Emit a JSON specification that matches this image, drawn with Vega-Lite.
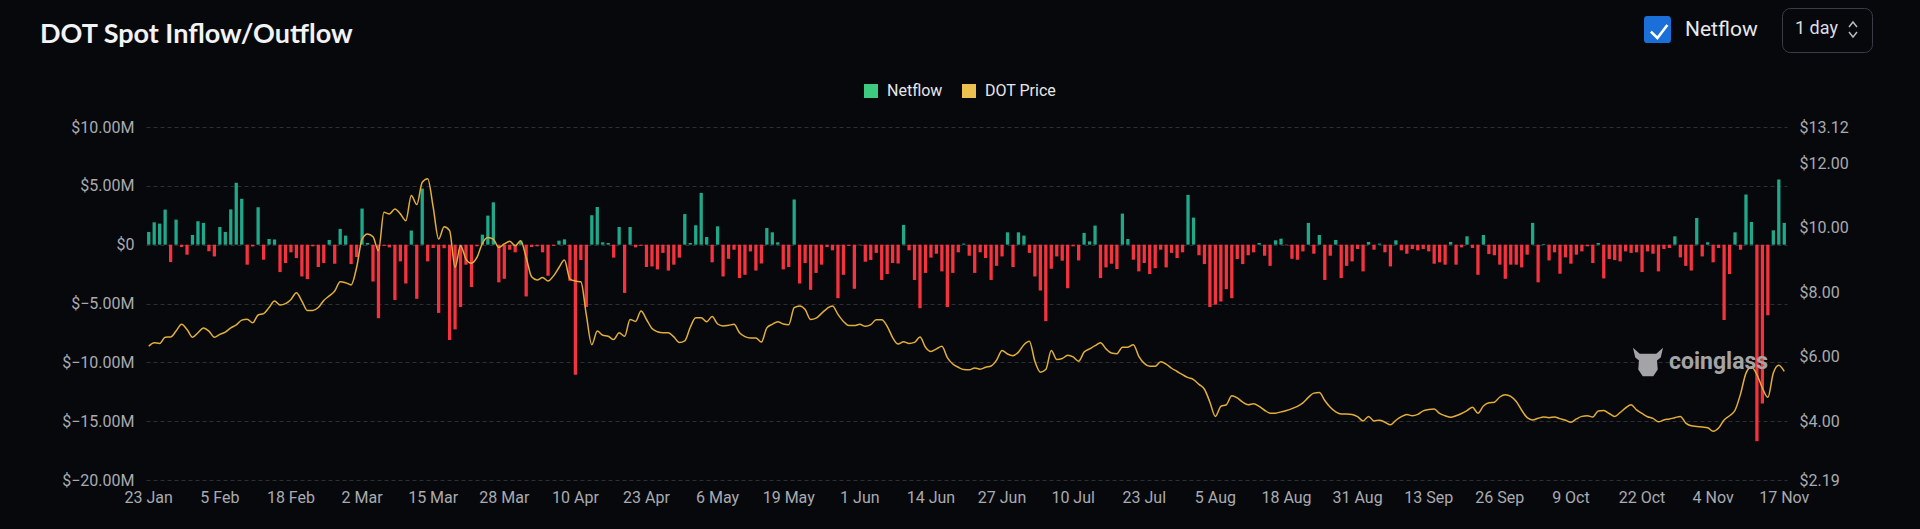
{
"$schema": "https://vega.github.io/schema/vega-lite/v6.json",
"width": 1641, "height": 353,
"autosize": {"type": "none"},
"padding": {"left": 146, "top": 127, "right": 133, "bottom": 49},
"background": "#07080c",
"title": {"text": "DOT Spot Inflow/Outflow", "anchor": "start", "frame": "group", "font": "Lato", "fontSize": 27, "fontWeight": "bold", "color": "#f2f3f5", "dx": -106, "offset": -62, "baseline": "alphabetic"},
"data": {"values": [
{"d":"2024-01-23","n":1.08,"p":6.33},{"d":"2024-01-24","n":1.9,"p":6.44},{"d":"2024-01-25","n":1.79,"p":6.42},{"d":"2024-01-26","n":2.98,"p":6.61},{"d":"2024-01-27","n":-1.48,"p":6.62},{"d":"2024-01-28","n":2.13,"p":6.8},{"d":"2024-01-29","n":-0.2,"p":7.01},{"d":"2024-01-30","n":-0.85,"p":6.85},{"d":"2024-01-31","n":0.82,"p":6.61},
{"d":"2024-02-01","n":1.99,"p":6.75},{"d":"2024-02-02","n":1.85,"p":6.9},{"d":"2024-02-03","n":-0.57,"p":6.8},{"d":"2024-02-04","n":-1.0,"p":6.61},{"d":"2024-02-05","n":1.5,"p":6.7},{"d":"2024-02-06","n":1.08,"p":6.77},{"d":"2024-02-07","n":3.0,"p":6.9},{"d":"2024-02-08","n":5.26,"p":6.99},{"d":"2024-02-09","n":3.9,"p":7.14},{"d":"2024-02-10","n":-1.7,"p":7.17},{"d":"2024-02-11","n":-0.15,"p":7.06},{"d":"2024-02-12","n":3.18,"p":7.3},{"d":"2024-02-13","n":-1.28,"p":7.34},{"d":"2024-02-14","n":0.48,"p":7.53},{"d":"2024-02-15","n":0.43,"p":7.73},{"d":"2024-02-16","n":-2.33,"p":7.61},{"d":"2024-02-17","n":-1.56,"p":7.65},{"d":"2024-02-18","n":-0.65,"p":7.78},{"d":"2024-02-19","n":-1.14,"p":7.99},{"d":"2024-02-20","n":-2.7,"p":7.73},{"d":"2024-02-21","n":-2.93,"p":7.44},{"d":"2024-02-22","n":-0.14,"p":7.44},{"d":"2024-02-23","n":-1.9,"p":7.53},{"d":"2024-02-24","n":-1.56,"p":7.75},{"d":"2024-02-25","n":0.4,"p":7.89},{"d":"2024-02-26","n":-1.62,"p":8.04},{"d":"2024-02-27","n":1.34,"p":8.33},{"d":"2024-02-28","n":0.77,"p":8.3},{"d":"2024-02-29","n":-1.65,"p":8.23},
{"d":"2024-03-01","n":-1.05,"p":8.77},{"d":"2024-03-02","n":3.07,"p":9.65},{"d":"2024-03-03","n":0.14,"p":9.81},{"d":"2024-03-04","n":-3.13,"p":9.72},{"d":"2024-03-05","n":-6.25,"p":9.29},{"d":"2024-03-06","n":-0.1,"p":10.48},{"d":"2024-03-07","n":-0.23,"p":10.43},{"d":"2024-03-08","n":-4.7,"p":10.58},{"d":"2024-03-09","n":-1.42,"p":10.43},{"d":"2024-03-10","n":-3.3,"p":10.22},{"d":"2024-03-11","n":1.2,"p":11.0},{"d":"2024-03-12","n":-4.6,"p":10.72},{"d":"2024-03-13","n":4.77,"p":11.41},{"d":"2024-03-14","n":-1.42,"p":11.52},{"d":"2024-03-15","n":-0.28,"p":10.64},{"d":"2024-03-16","n":-5.8,"p":9.65},{"d":"2024-03-17","n":-0.3,"p":10.03},{"d":"2024-03-18","n":-8.1,"p":9.91},{"d":"2024-03-19","n":-7.2,"p":8.77},{"d":"2024-03-20","n":-5.3,"p":9.44},{"d":"2024-03-21","n":-1.7,"p":9.03},{"d":"2024-03-22","n":-3.6,"p":8.9},{"d":"2024-03-23","n":-0.14,"p":9.08},{"d":"2024-03-24","n":0.85,"p":9.52},{"d":"2024-03-25","n":2.47,"p":9.7},{"d":"2024-03-26","n":3.6,"p":9.65},{"d":"2024-03-27","n":-3.2,"p":9.39},{"d":"2024-03-28","n":-2.9,"p":9.5},{"d":"2024-03-29","n":-0.43,"p":9.58},{"d":"2024-03-30","n":-0.65,"p":9.44},{"d":"2024-03-31","n":0.34,"p":9.6},
{"d":"2024-04-01","n":-4.4,"p":9.08},{"d":"2024-04-02","n":-0.2,"p":8.48},{"d":"2024-04-03","n":-0.14,"p":8.38},{"d":"2024-04-04","n":-0.65,"p":8.46},{"d":"2024-04-05","n":-2.64,"p":8.35},{"d":"2024-04-06","n":-0.1,"p":8.51},{"d":"2024-04-07","n":0.34,"p":8.77},{"d":"2024-04-08","n":0.45,"p":9.0},{"d":"2024-04-09","n":-3.07,"p":8.41},{"d":"2024-04-10","n":-11.05,"p":8.35},{"d":"2024-04-11","n":-1.3,"p":8.33},{"d":"2024-04-12","n":-5.3,"p":7.3},{"d":"2024-04-13","n":2.5,"p":6.38},{"d":"2024-04-14","n":3.2,"p":6.8},{"d":"2024-04-15","n":0.2,"p":6.67},{"d":"2024-04-16","n":0.14,"p":6.64},{"d":"2024-04-17","n":-1.1,"p":6.54},{"d":"2024-04-18","n":1.5,"p":6.75},{"d":"2024-04-19","n":-4.1,"p":6.64},{"d":"2024-04-20","n":1.5,"p":7.16},{"d":"2024-04-21","n":-0.23,"p":7.1},{"d":"2024-04-22","n":-0.1,"p":7.42},{"d":"2024-04-23","n":-1.9,"p":7.16},{"d":"2024-04-24","n":-1.85,"p":6.88},{"d":"2024-04-25","n":-2.1,"p":6.78},{"d":"2024-04-26","n":-0.7,"p":6.75},{"d":"2024-04-27","n":-2.2,"p":6.75},{"d":"2024-04-28","n":-1.7,"p":6.62},{"d":"2024-04-29","n":-1.1,"p":6.45},{"d":"2024-04-30","n":2.6,"p":6.5},
{"d":"2024-05-01","n":0.14,"p":6.92},{"d":"2024-05-02","n":1.65,"p":7.21},{"d":"2024-05-03","n":4.4,"p":7.21},{"d":"2024-05-04","n":0.65,"p":7.09},{"d":"2024-05-05","n":-1.5,"p":7.25},{"d":"2024-05-06","n":1.56,"p":7.02},{"d":"2024-05-07","n":-2.7,"p":6.96},{"d":"2024-05-08","n":-1.2,"p":6.98},{"d":"2024-05-09","n":-0.43,"p":7.01},{"d":"2024-05-10","n":-2.84,"p":6.75},{"d":"2024-05-11","n":-2.56,"p":6.63},{"d":"2024-05-12","n":-0.57,"p":6.59},{"d":"2024-05-13","n":-2.2,"p":6.59},{"d":"2024-05-14","n":-1.6,"p":6.46},{"d":"2024-05-15","n":1.42,"p":6.9},{"d":"2024-05-16","n":1.05,"p":7.01},{"d":"2024-05-17","n":0.2,"p":7.09},{"d":"2024-05-18","n":-2.1,"p":7.02},{"d":"2024-05-19","n":-1.9,"p":7.0},{"d":"2024-05-20","n":3.84,"p":7.53},{"d":"2024-05-21","n":-3.3,"p":7.58},{"d":"2024-05-22","n":-1.56,"p":7.47},{"d":"2024-05-23","n":-3.84,"p":7.16},{"d":"2024-05-24","n":-2.4,"p":7.2},{"d":"2024-05-25","n":-1.7,"p":7.35},{"d":"2024-05-26","n":-0.2,"p":7.5},{"d":"2024-05-27","n":-0.48,"p":7.58},{"d":"2024-05-28","n":-4.55,"p":7.32},{"d":"2024-05-29","n":-2.56,"p":7.1},{"d":"2024-05-30","n":-0.1,"p":6.97},{"d":"2024-05-31","n":-3.75,"p":6.97},
{"d":"2024-06-01","n":-0.05,"p":7.01},{"d":"2024-06-02","n":-1.45,"p":6.95},{"d":"2024-06-03","n":-1.3,"p":7.0},{"d":"2024-06-04","n":-0.7,"p":7.15},{"d":"2024-06-05","n":-3.0,"p":7.15},{"d":"2024-06-06","n":-2.5,"p":6.95},{"d":"2024-06-07","n":-1.56,"p":6.6},{"d":"2024-06-08","n":-1.6,"p":6.4},{"d":"2024-06-09","n":1.68,"p":6.47},{"d":"2024-06-10","n":-0.48,"p":6.42},{"d":"2024-06-11","n":-3.0,"p":6.45},{"d":"2024-06-12","n":-5.4,"p":6.62},{"d":"2024-06-13","n":-2.4,"p":6.3},{"d":"2024-06-14","n":-1.1,"p":6.17},{"d":"2024-06-15","n":-0.77,"p":6.25},{"d":"2024-06-16","n":-2.27,"p":6.33},{"d":"2024-06-17","n":-5.3,"p":5.98},{"d":"2024-06-18","n":-2.4,"p":5.78},{"d":"2024-06-19","n":-0.65,"p":5.68},{"d":"2024-06-20","n":0.09,"p":5.61},{"d":"2024-06-21","n":-0.94,"p":5.6},{"d":"2024-06-22","n":-2.4,"p":5.66},{"d":"2024-06-23","n":-0.65,"p":5.62},{"d":"2024-06-24","n":-1.14,"p":5.68},{"d":"2024-06-25","n":-3.0,"p":5.72},{"d":"2024-06-26","n":-1.8,"p":5.9},{"d":"2024-06-27","n":-1.0,"p":6.2},{"d":"2024-06-28","n":1.05,"p":6.09},{"d":"2024-06-29","n":-1.9,"p":6.04},{"d":"2024-06-30","n":1.05,"p":6.15},
{"d":"2024-07-01","n":0.77,"p":6.38},{"d":"2024-07-02","n":-0.7,"p":6.49},{"d":"2024-07-03","n":-2.7,"p":5.87},{"d":"2024-07-04","n":-3.9,"p":5.53},{"d":"2024-07-05","n":-6.5,"p":5.61},{"d":"2024-07-06","n":-2.05,"p":6.2},{"d":"2024-07-07","n":-1.0,"p":5.92},{"d":"2024-07-08","n":-1.36,"p":5.95},{"d":"2024-07-09","n":-3.7,"p":6.05},{"d":"2024-07-10","n":-0.14,"p":6.0},{"d":"2024-07-11","n":-1.34,"p":5.87},{"d":"2024-07-12","n":1.0,"p":6.15},{"d":"2024-07-13","n":0.28,"p":6.25},{"d":"2024-07-14","n":1.62,"p":6.35},{"d":"2024-07-15","n":-2.84,"p":6.44},{"d":"2024-07-16","n":-1.93,"p":6.25},{"d":"2024-07-17","n":-1.62,"p":6.12},{"d":"2024-07-18","n":-2.07,"p":6.1},{"d":"2024-07-19","n":2.64,"p":6.3},{"d":"2024-07-20","n":0.48,"p":6.3},{"d":"2024-07-21","n":-1.28,"p":6.38},{"d":"2024-07-22","n":-2.27,"p":6.02},{"d":"2024-07-23","n":-1.56,"p":5.8},{"d":"2024-07-24","n":-2.5,"p":5.71},{"d":"2024-07-25","n":-2.0,"p":5.71},{"d":"2024-07-26","n":-0.43,"p":5.85},{"d":"2024-07-27","n":-1.93,"p":5.78},{"d":"2024-07-28","n":-0.7,"p":5.65},{"d":"2024-07-29","n":-1.14,"p":5.55},{"d":"2024-07-30","n":-0.65,"p":5.45},{"d":"2024-07-31","n":4.23,"p":5.36},
{"d":"2024-08-01","n":2.3,"p":5.3},{"d":"2024-08-02","n":-0.9,"p":5.15},{"d":"2024-08-03","n":-1.65,"p":5.0},{"d":"2024-08-04","n":-5.3,"p":4.6},{"d":"2024-08-05","n":-5.1,"p":4.16},{"d":"2024-08-06","n":-4.83,"p":4.47},{"d":"2024-08-07","n":-3.78,"p":4.52},{"d":"2024-08-08","n":-4.55,"p":4.8},{"d":"2024-08-09","n":-1.22,"p":4.73},{"d":"2024-08-10","n":-1.65,"p":4.6},{"d":"2024-08-11","n":-0.9,"p":4.52},{"d":"2024-08-12","n":-0.65,"p":4.55},{"d":"2024-08-13","n":0.14,"p":4.47},{"d":"2024-08-14","n":-0.94,"p":4.35},{"d":"2024-08-15","n":-1.8,"p":4.26},{"d":"2024-08-16","n":0.37,"p":4.26},{"d":"2024-08-17","n":0.51,"p":4.3},{"d":"2024-08-18","n":-0.05,"p":4.34},{"d":"2024-08-19","n":-1.2,"p":4.4},{"d":"2024-08-20","n":-1.28,"p":4.47},{"d":"2024-08-21","n":-0.57,"p":4.58},{"d":"2024-08-22","n":1.85,"p":4.75},{"d":"2024-08-23","n":-0.77,"p":4.88},{"d":"2024-08-24","n":0.82,"p":4.9},{"d":"2024-08-25","n":-3.0,"p":4.65},{"d":"2024-08-26","n":-0.94,"p":4.44},{"d":"2024-08-27","n":0.4,"p":4.3},{"d":"2024-08-28","n":-2.84,"p":4.23},{"d":"2024-08-29","n":-1.8,"p":4.23},{"d":"2024-08-30","n":-1.42,"p":4.22},{"d":"2024-08-31","n":-0.37,"p":4.15},
{"d":"2024-09-01","n":-2.27,"p":4.02},{"d":"2024-09-02","n":0.23,"p":4.16},{"d":"2024-09-03","n":-0.43,"p":4.02},{"d":"2024-09-04","n":0.09,"p":4.04},{"d":"2024-09-05","n":-0.65,"p":3.98},{"d":"2024-09-06","n":-1.85,"p":3.9},{"d":"2024-09-07","n":0.37,"p":4.04},{"d":"2024-09-08","n":-0.48,"p":4.15},{"d":"2024-09-09","n":-0.77,"p":4.22},{"d":"2024-09-10","n":-0.37,"p":4.18},{"d":"2024-09-11","n":-0.48,"p":4.22},{"d":"2024-09-12","n":-0.37,"p":4.33},{"d":"2024-09-13","n":-0.57,"p":4.37},{"d":"2024-09-14","n":-1.62,"p":4.39},{"d":"2024-09-15","n":-1.5,"p":4.25},{"d":"2024-09-16","n":-1.7,"p":4.18},{"d":"2024-09-17","n":0.23,"p":4.13},{"d":"2024-09-18","n":-1.7,"p":4.18},{"d":"2024-09-19","n":-0.23,"p":4.25},{"d":"2024-09-20","n":0.71,"p":4.34},{"d":"2024-09-21","n":-0.28,"p":4.44},{"d":"2024-09-22","n":-2.56,"p":4.26},{"d":"2024-09-23","n":0.82,"p":4.48},{"d":"2024-09-24","n":-0.8,"p":4.58},{"d":"2024-09-25","n":-0.9,"p":4.6},{"d":"2024-09-26","n":-1.7,"p":4.76},{"d":"2024-09-27","n":-2.9,"p":4.83},{"d":"2024-09-28","n":-1.7,"p":4.78},{"d":"2024-09-29","n":-1.7,"p":4.62},{"d":"2024-09-30","n":-1.93,"p":4.35},
{"d":"2024-10-01","n":-0.85,"p":4.12},{"d":"2024-10-02","n":1.85,"p":4.05},{"d":"2024-10-03","n":-3.2,"p":4.1},{"d":"2024-10-04","n":0.06,"p":4.14},{"d":"2024-10-05","n":-1.34,"p":4.12},{"d":"2024-10-06","n":-0.65,"p":4.14},{"d":"2024-10-07","n":-2.47,"p":4.09},{"d":"2024-10-08","n":-1.08,"p":4.04},{"d":"2024-10-09","n":-1.62,"p":3.98},{"d":"2024-10-10","n":-0.85,"p":4.08},{"d":"2024-10-11","n":-0.57,"p":4.16},{"d":"2024-10-12","n":-0.14,"p":4.18},{"d":"2024-10-13","n":-1.56,"p":4.14},{"d":"2024-10-14","n":0.14,"p":4.33},{"d":"2024-10-15","n":-2.87,"p":4.34},{"d":"2024-10-16","n":-1.22,"p":4.25},{"d":"2024-10-17","n":-1.31,"p":4.16},{"d":"2024-10-18","n":-1.42,"p":4.28},{"d":"2024-10-19","n":-0.57,"p":4.42},{"d":"2024-10-20","n":-0.7,"p":4.52},{"d":"2024-10-21","n":-0.65,"p":4.36},{"d":"2024-10-22","n":-2.33,"p":4.25},{"d":"2024-10-23","n":-0.57,"p":4.15},{"d":"2024-10-24","n":-0.77,"p":4.1},{"d":"2024-10-25","n":-2.27,"p":3.99},{"d":"2024-10-26","n":-0.37,"p":4.05},{"d":"2024-10-27","n":-0.28,"p":4.08},{"d":"2024-10-28","n":0.71,"p":4.12},{"d":"2024-10-29","n":-1.08,"p":4.16},{"d":"2024-10-30","n":-1.8,"p":3.95},{"d":"2024-10-31","n":-2.2,"p":3.87},
{"d":"2024-11-01","n":2.27,"p":3.85},{"d":"2024-11-02","n":-1.0,"p":3.83},{"d":"2024-11-03","n":0.2,"p":3.81},{"d":"2024-11-04","n":-1.5,"p":3.7},{"d":"2024-11-05","n":-0.28,"p":3.8},{"d":"2024-11-06","n":-6.4,"p":4.05},{"d":"2024-11-07","n":-2.5,"p":4.18},{"d":"2024-11-08","n":1.05,"p":4.35},{"d":"2024-11-09","n":-0.43,"p":4.85},{"d":"2024-11-10","n":4.26,"p":5.5},{"d":"2024-11-11","n":1.93,"p":5.7},{"d":"2024-11-12","n":-16.7,"p":5.45},{"d":"2024-11-13","n":-13.5,"p":5.04},{"d":"2024-11-14","n":-6.0,"p":4.75},{"d":"2024-11-15","n":1.22,"p":5.5},{"d":"2024-11-16","n":5.54,"p":5.74},{"d":"2024-11-17","n":1.85,"p":5.55}
]},
"layer": [
{"mark": {"type": "bar"},
 "encoding": {
  "x": {"field": "d", "type": "ordinal", "sort": null, "title": null,
        "scale": {"paddingInner": 0.4, "paddingOuter": 0.2},
        "axis": {"values": ["2024-01-23","2024-02-05","2024-02-18","2024-03-02","2024-03-15","2024-03-28","2024-04-10","2024-04-23","2024-05-06","2024-05-19","2024-06-01","2024-06-14","2024-06-27","2024-07-10","2024-07-23","2024-08-05","2024-08-18","2024-08-31","2024-09-13","2024-09-26","2024-10-09","2024-10-22","2024-11-04","2024-11-17"],
                 "labelExpr": "toNumber(slice(datum.value, 8)) + ' ' + ['Jan','Feb','Mar','Apr','May','Jun','Jul','Aug','Sep','Oct','Nov','Dec'][toNumber(slice(datum.value, 5, 7)) - 1]",
                 "labelAngle": 0, "domain": false, "ticks": false, "grid": false, "labelPadding": 9}},
  "y": {"field": "n", "type": "quantitative", "title": null,
        "scale": {"domain": [-20, 10], "nice": false},
        "axis": {"orient": "left", "values": [-20, -15, -10, -5, 0, 5, 10], "labelExpr": "datum.value == 0 ? '$0' : '$' + format(datum.value, '.2f') + 'M'", "labelPadding": 12}},
  "color": {"condition": {"test": "datum.n >= 0", "value": "#1FA98A"}, "value": "#F5333F"}
 }},
{"mark": {"type": "line", "interpolate": "monotone", "strokeWidth": 1.5, "color": "#E2AE3A"},
 "encoding": {
  "x": {"field": "d", "type": "ordinal", "sort": null},
  "y": {"field": "p", "type": "quantitative", "title": null,
        "scale": {"domain": [2.19, 13.12], "nice": false, "zero": false},
        "axis": {"orient": "right", "values": [2.19, 4, 6, 8, 10, 12, 13.12], "labelExpr": "'$' + format(datum.value, '.2f')", "labelPadding": 12}}
 }},
{"mark": {"type": "square", "opacity": 1},
 "transform": [{"filter": "false"}],
 "encoding": {
  "color": {"field": "k", "type": "nominal",
            "scale": {"domain": ["Netflow", "DOT Price"], "range": ["#3DCB7F", "#EDC14F"]},
            "legend": {"orient": "none", "legendX": 717, "legendY": -44, "direction": "horizontal", "title": null, "symbolType": "square", "symbolSize": 196, "symbolStrokeWidth": 0, "symbolOpacity": 1, "labelColor": "#e6e6e8", "labelFontSize": 16, "labelFont": "Roboto", "columnPadding": 18, "labelOffset": 8, "padding": 0}}
 }},
{"mark": {"type": "square", "opacity": 1},
 "transform": [{"filter": "false"}],
 "encoding": {
  "fill": {"field": "k", "type": "nominal",
            "scale": {"domain": ["Netflow"], "range": ["#1B6FD8"]},
            "legend": {"orient": "none", "legendX": 1498, "legendY": -111, "title": null, "symbolType": "M -1 -0.75 Q -1 -1 -0.75 -1 L 0.75 -1 Q 1 -1 1 -0.75 L 1 0.75 Q 1 1 0.75 1 L -0.75 1 Q -1 1 -1 0.75 Z", "symbolSize": 729, "symbolStrokeWidth": 0, "symbolOpacity": 1, "labelColor": "#e8e9ec", "labelFontSize": 21, "labelFont": "Roboto", "labelOffset": 14, "padding": 0}}
 }},
{"mark": {"type": "point", "filled": false, "opacity": 1},
 "transform": [{"filter": "false"}],
 "encoding": {
  "stroke": {"field": "k", "type": "nominal",
            "scale": {"domain": ["c"], "range": ["#ffffff"]},
            "legend": {"orient": "none", "legendX": 1498, "legendY": -111, "title": null, "symbolType": "M -0.6 0.05 L -0.12 0.52 L 0.62 -0.45", "symbolSize": 729, "symbolStrokeWidth": 2.6, "symbolFillColor": "transparent", "symbolOpacity": 1, "labelExpr": "''", "labelFontSize": 20, "padding": 0}}
 }},
{"mark": {"type": "point", "filled": false, "opacity": 1, "color": "#b9bac0"},
 "transform": [{"filter": "false"}],
 "encoding": {
  "shape": {"field": "k", "type": "nominal",
            "scale": {"domain": ["1 day"], "range": ["M 23 -1 L 25 -3.5 L 27 -1 M 23 1.5 L 25 4 L 27 1.5"]},
            "legend": {"orient": "none", "legendX": 1636, "legendY": -119, "title": null, "symbolSize": 16, "symbolStrokeWidth": 1.5, "symbolOpacity": 1, "labelColor": "#dcdde0", "labelFontSize": 18, "labelFont": "Roboto", "labelOffset": -17, "padding": 12, "strokeColor": "#3a3d45", "cornerRadius": 8}}
 }},
{"mark": {"type": "square", "color": "#a4a4a6"},
 "transform": [{"filter": "false"}],
 "encoding": {
  "opacity": {"field": "k", "type": "nominal",
            "scale": {"domain": ["coinglass"], "range": [0.85]},
            "legend": {"orient": "none", "legendX": 1487, "legendY": 220, "title": null, "symbolType": "M -1 -0.95 L -0.55 -0.55 L 0.55 -0.55 L 1 -0.95 L 0.85 -0.3 L 0.6 -0.1 L 0.65 0.5 L 0.35 0.95 L -0.35 0.95 L -0.65 0.5 L -0.6 -0.1 L -0.85 -0.3 Z", "symbolSize": 900, "symbolStrokeWidth": 0, "labelColor": "#a4a4a6", "labelFontSize": 23, "labelFontWeight": "bold", "labelFont": "Roboto", "labelOffset": 6, "padding": 0}}
 }}
],
"resolve": {"scale": {"y": "independent"}},
"config": {
 "view": {"stroke": null},
 "axis": {"labelColor": "#a9abb0", "labelFont": "Roboto", "labelFontSize": 16, "domain": false, "ticks": false, "gridColor": "#2c2f36", "gridDash": [4, 3], "gridWidth": 1},
 "axisY": {"grid": true}
}
}
